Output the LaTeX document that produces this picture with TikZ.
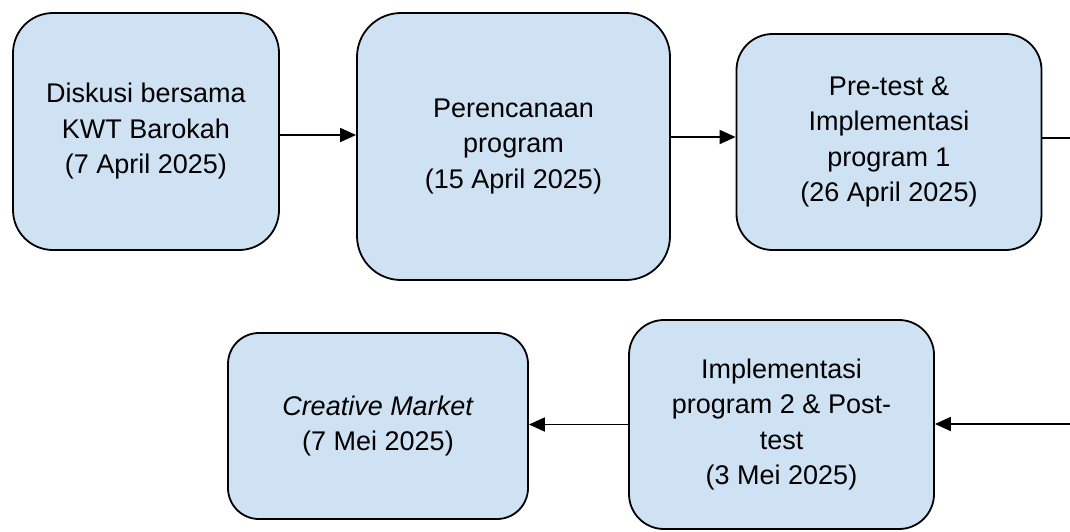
\documentclass[tikz,border=0pt]{standalone}
\usepackage{fontspec}
\setmainfont{Liberation Sans}
\usetikzlibrary{arrows.meta}
\definecolor{boxblue}{HTML}{CFE2F3}
\begin{document}
\begin{tikzpicture}[x=1pt,y=-1pt,line join=round,>={Triangle[length=16pt,width=14pt]},line width=1.8pt]
		\tikzset{stagebox/.style={draw,fill=boxblue,align=center,inner sep=0pt,font=\fontsize{27}{35.5}\selectfont}}
		\useasboundingbox (0,0) rectangle (1070,531);
		% top row
		\node[stagebox,minimum width=266pt,minimum height=237pt,rounded corners=40pt] (diskusi) at (146,131.5) {Diskusi bersama\\KWT Barokah\\(7 April 2025)};
		\node[stagebox,minimum width=313pt,minimum height=267pt,rounded corners=44pt] (rencana) at (513.5,146.5) {Perencanaan\\program\\(15 April 2025)};
		\node[stagebox,minimum width=305pt,minimum height=216pt,rounded corners=36pt] (pretest) at (889,142) {Pre-test \&\\Implementasi\\program 1\\(26 April 2025)};
		% bottom row
		\node[stagebox,minimum width=305pt,minimum height=209pt,rounded corners=35pt] (posttest) at (781.5,424.5) {Implementasi\\program 2 \& Post-\\test\\(3 Mei 2025)};
		\node[stagebox,minimum width=300pt,minimum height=186pt,rounded corners=31pt] (market) at (378,426) {\textit{Creative Market}\\(7 Mei 2025)};
		% connectors
		\coordinate (keluar) at (1070,138);
		\coordinate (masuk) at (1070,424);
		\draw[->] ([yshift=-3.5pt]diskusi.east) -- ([yshift=-3.5pt]diskusi.east -| rencana.west);
		\draw[->] ([yshift=9.5pt]rencana.east) -- ([yshift=9.5pt]rencana.east -| pretest.west);
		\draw (pretest.east |- keluar) -- (keluar);
		\draw[->] (masuk) -- (masuk -| posttest.east);
		\draw[->] (posttest.west) -- (posttest.west -| market.east);
\end{tikzpicture}
\end{document}
